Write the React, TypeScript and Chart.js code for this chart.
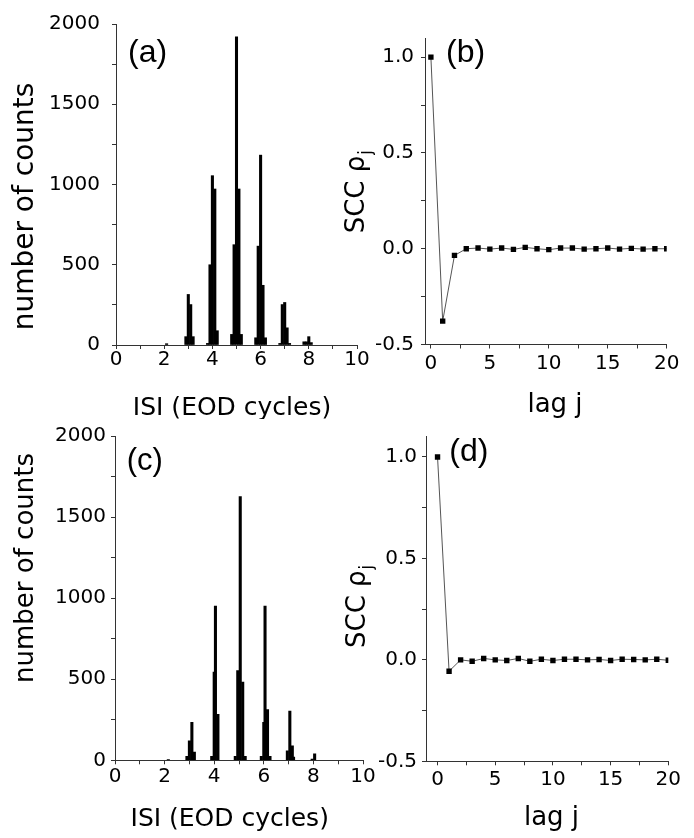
import React, { useEffect, useRef } from 'react';
import { Chart, registerables } from 'chart.js';

Chart.register(...registerables);

// ---------- data ----------
// ISI histogram, panel (a): bin centres (EOD cycles) and counts
const ISI_BINS_A = [2.1, 2.9, 3.0, 3.1, 3.2, 3.8, 3.9, 4.0, 4.1, 4.2, 4.8, 4.9, 5.0, 5.1, 5.2, 5.8, 5.9, 6.0, 6.1, 6.2, 6.8, 6.9, 7.0, 7.1, 7.2, 7.8, 7.9, 8.0, 8.1];
const COUNTS_A = [8, 52, 315, 252, 52, 10, 500, 1055, 972, 89, 66, 625, 1920, 972, 66, 45, 616, 1183, 372, 45, 10, 252, 265, 107, 10, 20, 20, 52, 15];

// ISI histogram, panel (c)
const ISI_BINS_C = [2.15, 2.9, 3.0, 3.1, 3.2, 3.9, 4.0, 4.05, 4.15, 4.85, 4.95, 5.05, 5.15, 5.25, 5.9, 6.0, 6.05, 6.15, 6.25, 6.95, 7.05, 7.15, 7.2, 7.95, 8.05];
const COUNTS_C = [5, 25, 120, 234, 51, 25, 544, 951, 283, 25, 554, 1627, 483, 25, 25, 234, 951, 313, 25, 59, 303, 89, 20, 8, 40];

// serial correlation coefficients vs lag
const LAGS = [0, 1, 2, 3, 4, 5, 6, 7, 8, 9, 10, 11, 12, 13, 14, 15, 16, 17, 18, 19, 20];
const SCC_B = [1.0, -0.378, -0.035, 0.0, 0.0035, -0.002, 0.0035, -0.0035, 0.007, 0.0, -0.005, 0.0035, 0.0035, -0.002, 0.0, 0.0035, -0.002, 0.002, -0.002, 0.0, 0.0];
const SCC_D = [1.0, -0.056, 0.0, -0.007, 0.007, 0.0, -0.003, 0.007, -0.007, 0.003, -0.003, 0.003, 0.003, 0.0, 0.002, -0.003, 0.003, 0.002, 0.0, 0.003, -0.002];

// axis ranges
const ISI_RANGE = [0, 10];
const COUNT_RANGE = [0, 2000];
const SCC_RANGE = [-0.5, 1.1];
const LAG_RANGE_B = [-0.5, 20];
const LAG_RANGE_D = [-1, 20];

// ---------- styles ----------
const TICK_FONT = { family: 'DejaVu Sans', size: 20 };
const AXIS = '#333';
const TEXT = '#000';
const TITLE_FAMILY = '"DejaVu Sans", sans-serif';
const LABEL_FAMILY = '"Liberation Sans", Arial, sans-serif';

type Geo = {
  w: number; h: number; left: number; top: number;
  padTop: number; padRight: number; yW: number; xH: number;
  yPad: number; xPad: number;
};

function axisCommon(size: number, fixed: 'w' | 'h') {
  return {
    offset: false,
    afterFit: (s: any) => { if (fixed === 'w') s.width = size; else s.height = size; },
    grid: { offset: false, drawOnChartArea: false, drawTicks: true, tickLength: 4, color: AXIS, lineWidth: 1 },
    border: { display: true, color: AXIS, width: 1 },
  };
}

function textPlugin(draw: (ctx: CanvasRenderingContext2D) => void) {
  return {
    id: 'panelText',
    afterDraw(chart: any) {
      const ctx = chart.ctx as CanvasRenderingContext2D;
      ctx.save();
      ctx.fillStyle = TEXT;
      draw(ctx);
      ctx.restore();
    },
  };
}

function drawVertical(ctx: CanvasRenderingContext2D, text: string, x: number, cy: number, size: number) {
  ctx.save();
  ctx.translate(x, cy);
  ctx.rotate(-Math.PI / 2);
  ctx.font = `${size}px ${TITLE_FAMILY}`;
  ctx.textAlign = 'center';
  ctx.textBaseline = 'alphabetic';
  ctx.fillText(text, 0, 0);
  ctx.restore();
}

function drawSCC(ctx: CanvasRenderingContext2D, x: number, y0: number, size: number) {
  ctx.save();
  ctx.translate(x, y0);
  ctx.rotate(-Math.PI / 2);
  ctx.font = `${size}px ${TITLE_FAMILY}`;
  ctx.textAlign = 'left';
  ctx.textBaseline = 'alphabetic';
  const main = 'SCC \u03C1';
  ctx.fillText(main, 0, 0);
  const w = ctx.measureText(main).width;
  ctx.font = `${Math.round(size * 0.65)}px ${TITLE_FAMILY}`;
  ctx.fillText('j', w + 1, size * 0.28);
  ctx.restore();
}

function drawH(ctx: CanvasRenderingContext2D, text: string, x: number, y: number, size: number, family: string, align: CanvasTextAlign) {
  ctx.font = `${size}px ${family}`;
  ctx.textAlign = align;
  ctx.textBaseline = 'alphabetic';
  ctx.fillText(text, x, y);
}

function histConfig(bins: number[], counts: number[], g: Geo, texts: (ctx: CanvasRenderingContext2D) => void) {
  return {
    type: 'bar',
    data: {
      datasets: [{
        data: bins.map((x, i) => ({ x, y: counts[i] })),
        backgroundColor: '#000',
        borderWidth: 0,
        barThickness: 2.4,
        grouped: false,
      }],
    },
    options: {
      animation: false,
      responsive: false,
      devicePixelRatio: 1,
      events: [],
      layout: { padding: { top: g.padTop, right: g.padRight, left: 0, bottom: 0 } },
      plugins: { legend: { display: false }, tooltip: { enabled: false } },
      scales: {
        x: {
          type: 'linear', min: ISI_RANGE[0], max: ISI_RANGE[1],
          ...axisCommon(g.xH, 'h'),
          ticks: {
            stepSize: 1, autoSkip: false, includeBounds: false, maxRotation: 0, minRotation: 0,
            padding: g.xPad, font: TICK_FONT, color: TEXT,
            callback: (v: number) => (Math.round(v) % 2 === 0 ? String(Math.round(v)) : ''),
          },
        },
        y: {
          type: 'linear', min: COUNT_RANGE[0], max: COUNT_RANGE[1],
          ...axisCommon(g.yW, 'w'),
          ticks: {
            stepSize: 250, autoSkip: false, includeBounds: false,
            padding: g.yPad, font: TICK_FONT, color: TEXT,
            callback: (v: number) => (Math.round(v) % 500 === 0 ? String(Math.round(v)) : ''),
          },
        },
      },
    },
    plugins: [textPlugin(texts)],
  };
}

function sccConfig(values: number[], lagRange: number[], g: Geo, texts: (ctx: CanvasRenderingContext2D) => void) {
  return {
    type: 'line',
    data: {
      datasets: [{
        data: LAGS.map((x, i) => ({ x, y: values[i] })),
        borderColor: '#555',
        borderWidth: 1,
        pointStyle: 'rect',
        pointRadius: 3.8,
        pointBackgroundColor: '#000',
        pointBorderColor: '#000',
        pointBorderWidth: 0,
        tension: 0,
        fill: false,
      }],
    },
    options: {
      animation: false,
      responsive: false,
      devicePixelRatio: 1,
      events: [],
      layout: { padding: { top: g.padTop, right: g.padRight, left: 0, bottom: 0 } },
      plugins: { legend: { display: false }, tooltip: { enabled: false } },
      scales: {
        x: {
          type: 'linear', min: lagRange[0], max: lagRange[1],
          ...axisCommon(g.xH, 'h'),
          ticks: {
            stepSize: 2.5, autoSkip: false, includeBounds: false, maxRotation: 0, minRotation: 0,
            padding: g.xPad, font: TICK_FONT, color: TEXT,
            callback: (v: number) => (Math.abs(v % 5) < 1e-6 ? String(Math.round(v)) : ''),
          },
        },
        y: {
          type: 'linear', min: SCC_RANGE[0], max: SCC_RANGE[1],
          ...axisCommon(g.yW, 'w'),
          ticks: {
            stepSize: 0.25, autoSkip: false, includeBounds: false,
            padding: g.yPad, font: TICK_FONT, color: TEXT,
            callback: (v: number) => (Math.abs((v * 2) - Math.round(v * 2)) < 1e-6 ? v.toFixed(1) : ''),
          },
        },
      },
    },
    plugins: [textPlugin(texts)],
  };
}

const GEO_A: Geo = { left: 0, top: 0, w: 380, h: 419, padTop: 23, padRight: 23, yW: 116, xH: 74, yPad: 12, xPad: -1 };
const GEO_B: Geo = { left: 330, top: 0, w: 364, h: 419, padTop: 38, padRight: 27.3, yW: 95, xH: 74.5, yPad: 7, xPad: 3 };
const GEO_C: Geo = { left: 0, top: 419, w: 380, h: 419, padTop: 14, padRight: 17, yW: 115, xH: 77.7, yPad: 5, xPad: 0 };
const GEO_D: Geo = { left: 330, top: 419, w: 364, h: 419, padTop: 17.7, padRight: 25.7, yW: 96, xH: 76.7, yPad: 5, xPad: 2 };

function Panel({ geo, make }: { geo: Geo; make: () => any }) {
  const ref = useRef<HTMLCanvasElement | null>(null);
  useEffect(() => {
    if (!ref.current) return;
    const chart = new Chart(ref.current, make());
    return () => chart.destroy();
  }, []);
  return (
    <canvas
      ref={ref}
      width={geo.w}
      height={geo.h}
      style={{ position: 'absolute', left: geo.left, top: geo.top, width: geo.w, height: geo.h }}
    />
  );
}

export default function App() {
  return (
    <div style={{ position: 'absolute', left: 0, top: 0, width: 694, height: 838, background: '#fff', overflow: 'hidden' }}>
      <Panel
        geo={GEO_A}
        make={() => histConfig(ISI_BINS_A, COUNTS_A, GEO_A, (ctx) => {
          drawVertical(ctx, 'number of counts', 33, 206.5, 28);
          drawH(ctx, 'ISI (EOD cycles)', 232, 415, 25, TITLE_FAMILY, 'center');
          drawH(ctx, '(a)', 128, 61.6, 32, LABEL_FAMILY, 'left');
        })}
      />
      <Panel
        geo={GEO_B}
        make={() => sccConfig(SCC_B, LAG_RANGE_B, GEO_B, (ctx) => {
          drawSCC(ctx, 33.5, 233.3, 26);
          drawH(ctx, 'lag j', 225, 412, 26, TITLE_FAMILY, 'center');
          drawH(ctx, '(b)', 116, 61.6, 32, LABEL_FAMILY, 'left');
        })}
      />
      <Panel
        geo={GEO_C}
        make={() => histConfig(ISI_BINS_C, COUNTS_C, GEO_C, (ctx) => {
          drawVertical(ctx, 'number of counts', 33, 149, 26);
          drawH(ctx, 'ISI (EOD cycles)', 229.7, 407, 25, TITLE_FAMILY, 'center');
          drawH(ctx, '(c)', 126.7, 50.8, 31, LABEL_FAMILY, 'left');
        })}
      />
      <Panel
        geo={GEO_D}
        make={() => sccConfig(SCC_D, LAG_RANGE_D, GEO_D, (ctx) => {
          drawSCC(ctx, 35, 229, 26);
          drawH(ctx, 'lag j', 221.5, 405.7, 26, TITLE_FAMILY, 'center');
          drawH(ctx, '(d)', 119.3, 42.3, 32, LABEL_FAMILY, 'left');
        })}
      />
    </div>
  );
}
